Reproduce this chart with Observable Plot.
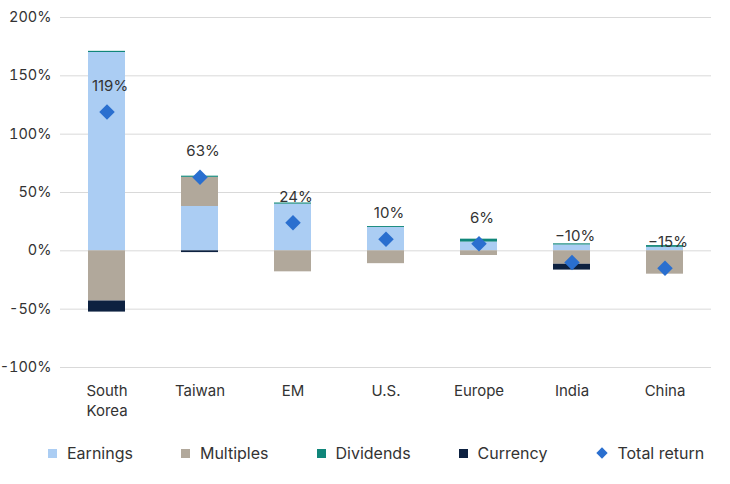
<!DOCTYPE html>
<html>
<head>
<meta charset="utf-8">
<script src="https://cdn.jsdelivr.net/npm/d3@7"></script>
<script src="https://cdn.jsdelivr.net/npm/@observablehq/plot@0.6"></script>
<style>
  body { margin: 0; background: #fff; font-family: Inter, "Noto Sans", sans-serif; }
  #legend { display: flex; align-items: center; height: 56px; padding-left: 48px; font-size: 16px; color: #333; white-space: nowrap; }
  .item { display: flex; align-items: center; margin-right: 48px; flex: none; }
  .swatch { width: 9px; height: 9px; margin-right: 10px; }
  .diamond { width: 8px; height: 8px; margin: 0 11px 0 3px; transform: rotate(45deg); }
</style>
</head>
<body>
<div id="chart"></div>
<div id="legend"></div>
<script>
// Return decomposition by market, in percentage points
const categories = ["South Korea", "Taiwan", "EM", "U.S.", "Europe", "India", "China"];
const earnings   = [170, 38, 40, 20, 7.5, 5, 3];
const multiples  = [-43, 25, -18, -11, -4, -11.5, -20];
const dividends  = [1, 1, 1, 0.8, 2.5, 1, 1.5];
const currency   = [-9.5, -1.5, 0, 0, 0, -5, 0];
const totalReturn = [119, 63, 24, 10, 6, -10, -15];

const yTicks = [-100, -50, 0, 50, 100, 150, 200];
const components = ["Earnings", "Multiples", "Dividends", "Currency"];
const componentColors = ["#abcdf3", "#b1a89b", "#10867a", "#0d2140"];
const totalColor = "#2a6fcf";

// Long table for the stacked bars: one row per market and component
const series = [earnings, multiples, dividends, currency];
const rows = [];
categories.forEach((category, i) => {
  components.forEach((component, j) => {
    rows.push({category, component, value: series[j][i]});
  });
});
const totals = categories.map((category, i) => ({category, value: totalReturn[i]}));

const pct = v => (v < 0 ? "\u2212" + Math.abs(v) : String(v)) + "%";

const chart = Plot.plot({
  width: 730,
  height: 425,
  marginTop: 17,
  marginBottom: 58,
  marginLeft: 60,
  marginRight: 19,
  style: {fontFamily: "Inter, 'Noto Sans', sans-serif", fontSize: "15px", color: "#333", background: "#fff"},
  x: {domain: categories, paddingInner: 0.6, paddingOuter: 0.3, label: null},
  y: {domain: [-100, 200], label: null},
  color: {domain: components, range: componentColors},
  marks: [
    Plot.gridY({ticks: yTicks, stroke: "#d9d9d9", strokeOpacity: 1}),
    Plot.barY(rows, {x: "category", y: "value", fill: "component"}),
    Plot.dot(totals, {x: "category", y: "value", symbol: "diamond2", r: 7, fill: totalColor}),
    Plot.text(totals, {x: "category", y: "value", text: d => pct(d.value), dy: -26, dx: 3, fontSize: 15, fill: "#333"}),
    Plot.axisY({ticks: yTicks, tickSize: 0, tickPadding: 9, tickFormat: d => `${d}%`, fontSize: 14.5, fill: "#333"}),
    Plot.axisX({tickSize: 0, tickPadding: 14, tickFormat: d => d.replace(" ", "\n"), lineHeight: 1.33, fontSize: 15, fill: "#333"})
  ]
});
document.getElementById("chart").append(chart);

// Legend below the chart
const legend = document.getElementById("legend");
components.forEach((name, i) => {
  const item = document.createElement("div");
  item.className = "item";
  item.innerHTML = `<span class="swatch" style="background:${componentColors[i]}"></span><span>${name}</span>`;
  legend.append(item);
});
const totalItem = document.createElement("div");
totalItem.className = "item";
totalItem.innerHTML = `<span class="diamond" style="background:${totalColor}"></span><span>Total return</span>`;
legend.append(totalItem);
</script>
</body>
</html>
